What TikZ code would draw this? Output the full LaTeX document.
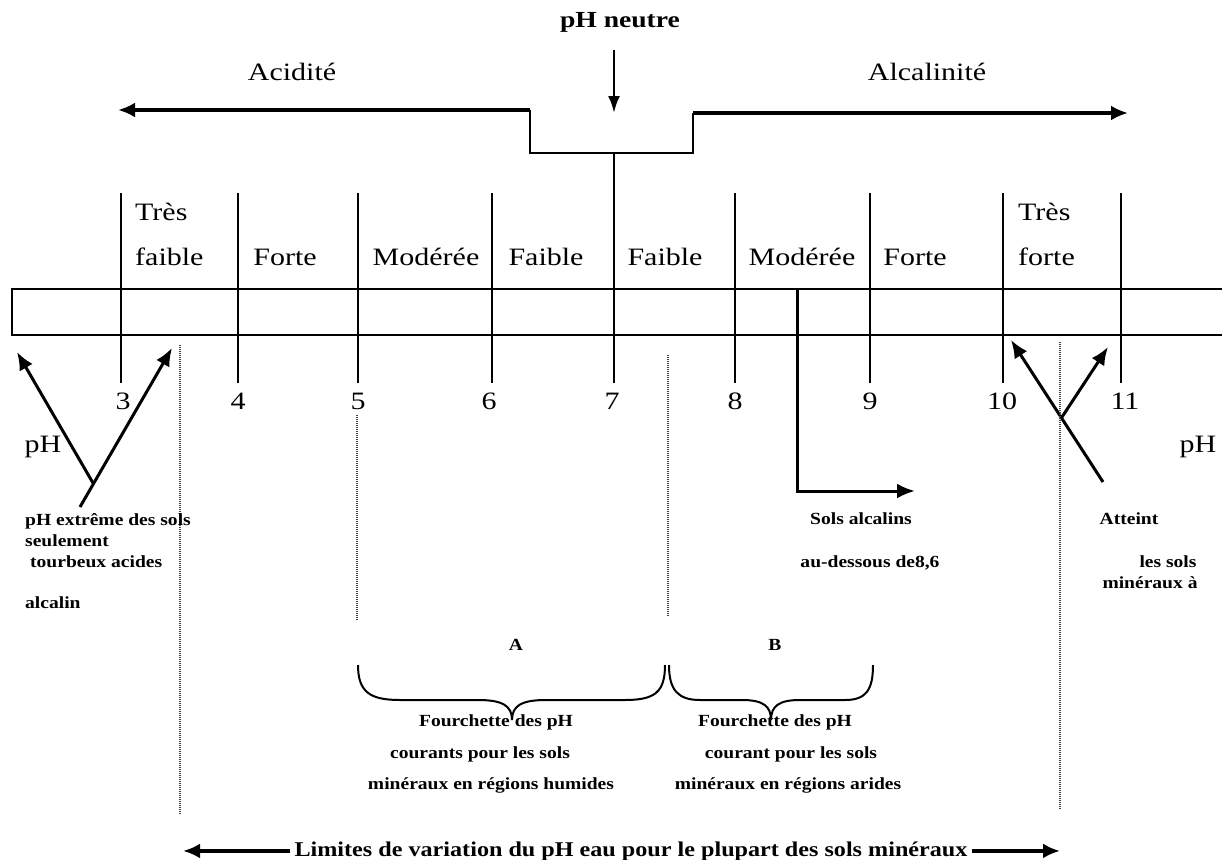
\documentclass[tikz,border=0pt]{standalone}
\usepackage{fontspec}
\setmainfont{Liberation Serif}
\newfontfamily\fa[FakeStretch=1.2]{Liberation Serif}
\newfontfamily\fb[FakeStretch=1.15]{Liberation Serif}
\usetikzlibrary{arrows.meta}
\begin{document}
\begin{tikzpicture}[x=1pt,y=-1pt,
  lab/.style={font=\fa\fontsize{25}{30}\selectfont, inner sep=0pt},
  ttl/.style={font=\fa\bfseries\fontsize{23}{28}\selectfont, inner sep=0pt},
  sm/.style={font=\fb\bfseries\fontsize{17}{20}\selectfont, inner sep=0pt},
  ln/.style={line width=2.4pt},
  fat/.style={line width=3.4pt, -{Latex[length=17pt,width=15pt]}},
  med/.style={line width=3pt, -{Latex[length=18pt,width=15pt]}},
  dot/.style={line width=1.3pt, black!75, dash pattern=on 1pt off 1pt},
  brc/.style={line width=2pt}
]
\useasboundingbox (0,0) rectangle (1222,859);

% ---- top ----
\node[ttl] (neutre) at (620,22) {pH neutre};
\node[lab] (acid) at (292,72) {Acidité};
\node[lab] (alca) at (927,72) {Alcalinité};

\coordinate (nA) at (614,50);
\coordinate (nB) at (614,113);
\draw[line width=2.6pt,-{Latex[length=17pt,width=12pt]}] (nA) -- (nB);

\coordinate (sl) at (530,110);
\coordinate (al) at (118,110);
\coordinate (sr) at (693,113);
\coordinate (ar) at (1128,113);
\coordinate (sbl) at (530,153);
\coordinate (sbr) at (693,153);
\coordinate (s7) at (614,153);
\coordinate (t7) at (614,383);
\draw[fat] (sl) -- (al);
\draw[fat] (sr) -- (ar);
\draw[ln] (sl) -- (sbl) -- (sbr) -- (sr);
\draw[ln] (s7) -- (t7);

% ---- scale box ----
\coordinate (b1) at (1222,289);
\coordinate (b2) at (12,289);
\coordinate (b3) at (12,335);
\coordinate (b4) at (1222,335);
\draw[ln] (b1) -- (b2) -- (b3) -- (b4);

\foreach \x/\n in {121/3,238/4,358/5,492/6,735/8,870/9,1003/10,1121/11}{
  \coordinate (tt\n) at (\x,193);
  \coordinate (tb\n) at (\x,383);
  \draw[ln] (tt\n) -- (tb\n);
}
\foreach \x/\n in {123/3,238/4,358/5,489/6,612/7,735/8,870/9,1002/10,1125/11}{
  \node[lab] (n\n) at (\x,401) {\n};
}

% ---- category labels ----
\node[lab,anchor=west] (tf1) at (135,212) {Très};
\node[lab,anchor=west] (tf2) at (135,257) {faible};
\node[lab] (f1) at (285,257) {Forte};
\node[lab] (m1) at (426,257) {Modérée};
\node[lab] (fa1) at (546,257) {Faible};
\node[lab] (fa2) at (665,257) {Faible};
\node[lab] (m2) at (802,257) {Modérée};
\node[lab] (f2) at (915,257) {Forte};
\node[lab,anchor=west] (tr1) at (1018,212) {Très};
\node[lab,anchor=west] (tr2) at (1018,257) {forte};

\node[lab] (phL) at (43,447) {pH};
\node[lab] (phR) at (1198,447) {pH};

% ---- left V arrows ----
\coordinate (vt) at (80,507);
\coordinate (vv) at (93,483);
\coordinate (vr) at (172,348);
\coordinate (vl) at (17,352);
\draw[med] (vt) -- (vr);
\draw[med] (vv) -- (vl);

% ---- right X arrows ----
\coordinate (xt) at (1103,482);
\coordinate (xl) at (1011,340);
\coordinate (xv) at (1062,417);
\coordinate (xr) at (1108,347);
\draw[med] (xt) -- (xl);
\draw[med] (xv) -- (xr);

% ---- elbow arrow ----
\coordinate (eTop) at (797,289);
\coordinate (eEnd) at (915,491);
\draw[med] (eTop) |- (eEnd);

% ---- dotted lines ----
\coordinate (d1a) at (180,345); \coordinate (d1b) at (180,815);
\coordinate (d2a) at (357,415); \coordinate (d2b) at (357,620);
\coordinate (d3a) at (668,355); \coordinate (d3b) at (668,617);
\coordinate (d4a) at (1060,342); \coordinate (d4b) at (1060,810);
\draw[dot] (d1a) -- (d1b);
\draw[dot] (d2a) -- (d2b);
\draw[dot] (d3a) -- (d3b);
\draw[dot] (d4a) -- (d4b);

% ---- small texts ----
\node[sm,anchor=base west] (x1) at (25,525) {pH extrême des sols};
\node[sm,anchor=base west] (x2) at (25,546) {seulement};
\node[sm,anchor=base west] (x3) at (30,567) {tourbeux acides};
\node[sm,anchor=base west] (x4) at (25,608) {alcalin};

\node[sm,anchor=base] (y1) at (861,524) {Sols alcalins};
\node[sm,anchor=base] (y2) at (870,567) {au-dessous de8,6};

\node[sm,anchor=base] (z1) at (1129,524) {Atteint};
\node[sm,anchor=base] (z2) at (1168,567) {les sols};
\node[sm,anchor=base] (z3) at (1150,588) {minéraux à};

% ---- braces ----
\node[sm,anchor=base] (lA) at (516,650) {A};
\node[sm,anchor=base] (lB) at (775,650) {B};

\coordinate (bAl) at (358,665);
\coordinate (bAc) at (512,720);
\coordinate (bAr) at (665,665);
\draw[brc] (bAl) .. controls (358,692) and (370,700) .. (400,700)
  -- (478,700) .. controls (503,700) and (512,706) .. (bAc)
  .. controls (512,706) and (521,700) .. (546,700)
  -- (625,700) .. controls (655,700) and (665,692) .. (bAr);

\coordinate (bBl) at (669,665);
\coordinate (bBc) at (771,720);
\coordinate (bBr) at (873,665);
\draw[brc] (bBl) .. controls (669,690) and (678,700) .. (700,700)
  -- (742,700) .. controls (763,700) and (771,706) .. (bBc)
  .. controls (771,706) and (779,700) .. (800,700)
  -- (845,700) .. controls (866,700) and (873,690) .. (bBr);

\node[sm,anchor=base] (fA1) at (496,726) {Fourchette des pH};
\node[sm,anchor=base] (fA2) at (480,758) {courants pour les sols};
\node[sm,anchor=base] (fA3) at (491,789) {minéraux en régions humides};
\node[sm,anchor=base] (fB1) at (775,726) {Fourchette des pH};
\node[sm,anchor=base] (fB2) at (791,758) {courant pour les sols};
\node[sm,anchor=base] (fB3) at (788,789) {minéraux en régions arides};

% ---- bottom ----
\node[font=\fb\bfseries\fontsize{21}{25}\selectfont, inner sep=4pt, anchor=base] (lim) at (631,856)
  {Limites de variation du pH eau pour le plupart des sols minéraux};
\coordinate (limL) at (183,851);
\coordinate (limR) at (1060,851);
\draw[fat] (lim.west) -- (lim.west -| limL);
\draw[fat] (lim.east) -- (lim.east -| limR);
\end{tikzpicture}
\end{document}
